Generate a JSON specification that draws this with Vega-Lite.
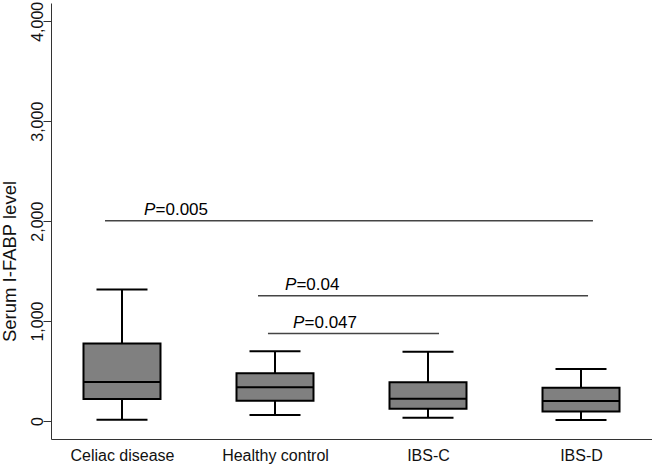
{
  "$schema": "https://vega.github.io/schema/vega-lite/v6.json",
  "width": 601,
  "height": 436,
  "autosize": "none",
  "padding": {"left": 51, "top": 3, "right": 0, "bottom": 25},
  "background": "white",
  "config": {
    "view": {"stroke": null},
    "font": "Liberation Sans",
    "axis": {"grid": false, "domainColor": "#333", "tickColor": "#333", "labelColor": "#111", "titleColor": "#111", "labelFont": "Liberation Sans", "titleFont": "Liberation Sans"}
  },
  "datasets": {
    "boxes": [
      {"group": "Celiac disease", "lower": 13, "q1": 220, "median": 391, "q3": 775, "upper": 1316},
      {"group": "Healthy control", "lower": 60, "q1": 203, "median": 337, "q3": 477, "upper": 698},
      {"group": "IBS-C", "lower": 33, "q1": 123, "median": 224, "q3": 387, "upper": 692},
      {"group": "IBS-D", "lower": 10, "q1": 96, "median": 200, "q3": 334, "upper": 521}
    ],
    "sig": [
      {"start": 0.889, "end": 4.078, "level": 2003, "textpos": 1.144, "textlevel": 2058, "pvalue": "=0.005"},
      {"start": 1.889, "end": 4.046, "level": 1253, "textpos": 2.065, "textlevel": 1310, "pvalue": "=0.04"},
      {"start": 1.954, "end": 3.072, "level": 875, "textpos": 2.118, "textlevel": 930, "pvalue": "=0.047"}
    ]
  },
  "resolve": {"scale": {"x": "independent"}, "axis": {"x": "independent"}},
  "layer": [
    {
      "data": {"name": "boxes"},
      "encoding": {
        "x": {"field": "group", "type": "nominal", "sort": null,
          "scale": {"type": "point", "padding": 0.464},
          "axis": {"title": null, "ticks": false, "labelAngle": 0, "labelFontSize": 16, "labelPadding": 8, "domainWidth": 1}
        }
      },
      "layer": [
        {
          "mark": {"type": "rule", "color": "black", "strokeWidth": 2},
          "encoding": {
            "y": {"field": "lower", "type": "quantitative",
              "scale": {"domain": [-180, 4183], "nice": false, "zero": false},
              "axis": {"title": "Serum I-FABP level", "values": [0, 1000, 2000, 3000, 4000], "format": ",d", "labelAngle": -90, "labelAlign": "center", "labelBaseline": "alphabetic", "labelPadding": 1, "tickSize": 8, "labelFontSize": 16, "titleFontSize": 18.5, "titleFontWeight": "normal", "titleAngle": -90, "titleX": -36, "titleY": 258, "titleAlign": "center", "titleBaseline": "alphabetic"}
            },
            "y2": {"field": "upper"}
          }
        },
        {
          "mark": {"type": "tick", "color": "black", "opacity": 1, "thickness": 2, "size": 51},
          "encoding": {"y": {"field": "lower", "type": "quantitative"}}
        },
        {
          "mark": {"type": "tick", "color": "black", "opacity": 1, "thickness": 2, "size": 51},
          "encoding": {"y": {"field": "upper", "type": "quantitative"}}
        },
        {
          "mark": {"type": "bar", "fill": "#808080", "stroke": "black", "strokeWidth": 2, "size": 77, "opacity": 1},
          "encoding": {"y": {"field": "q1", "type": "quantitative"}, "y2": {"field": "q3"}}
        },
        {
          "mark": {"type": "tick", "color": "black", "opacity": 1, "thickness": 2, "size": 77},
          "encoding": {"y": {"field": "median", "type": "quantitative"}}
        }
      ]
    },
    {
      "data": {"name": "sig"},
      "encoding": {
        "x": {"field": "start", "type": "quantitative", "scale": {"domain": [0.536, 4.464], "nice": false, "zero": false}, "axis": null}
      },
      "layer": [
        {
          "mark": {"type": "rule", "color": "#444", "strokeWidth": 1.5},
          "encoding": {"y": {"field": "level", "type": "quantitative"}, "x2": {"field": "end"}}
        },
        {
          "mark": {"type": "text", "text": "P", "fontStyle": "italic", "fontSize": 17, "align": "left", "baseline": "alphabetic", "color": "black"},
          "encoding": {"x": {"field": "textpos", "type": "quantitative"}, "y": {"field": "textlevel", "type": "quantitative"}}
        },
        {
          "mark": {"type": "text", "fontSize": 17, "align": "left", "baseline": "alphabetic", "dx": 11.5, "color": "black"},
          "encoding": {"x": {"field": "textpos", "type": "quantitative"}, "y": {"field": "textlevel", "type": "quantitative"}, "text": {"field": "pvalue"}}
        }
      ]
    }
  ]
}
